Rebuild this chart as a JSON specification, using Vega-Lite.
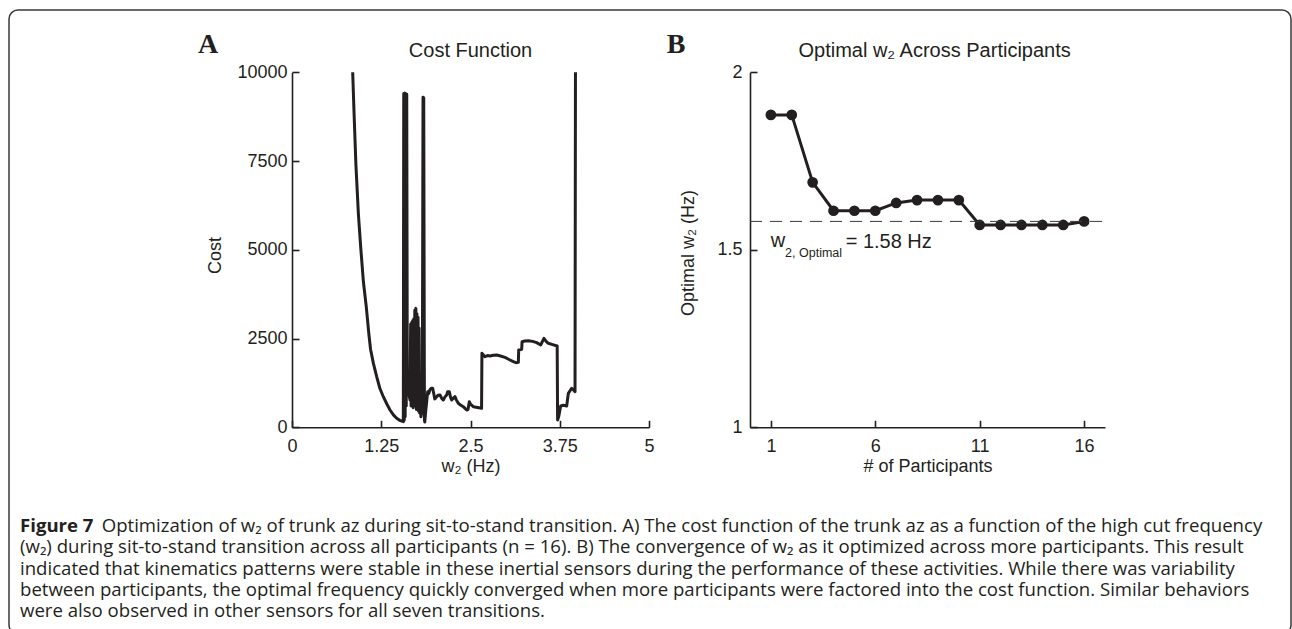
{
  "$schema": "https://vega.github.io/schema/vega-lite/v6.json",
  "width": 1282,
  "height": 624,
  "autosize": {"type": "none"},
  "padding": {"left": 9, "top": 10, "right": 1, "bottom": -5},
  "background": "white",
  "config": {
    "font": "Arial",
    "view": {"stroke": "#3a3a3a", "strokeWidth": 1.5, "cornerRadius": 9},
    "axis": {
      "grid": false,
      "domainColor": "#231f20", "domainWidth": 1.6,
      "tickColor": "#231f20", "tickWidth": 1.6, "tickSize": -7,
      "labelFont": "Arial", "labelFontSize": 18, "labelColor": "#231f20",
      "labelFlush": false, "labelOverlap": false,
      "titleFont": "Arial", "titleFontSize": 18, "titleFontWeight": "normal", "titleColor": "#231f20"
    }
  },
  "resolve": {
    "scale": {"x": "independent", "y": "independent"},
    "axis": {"x": "independent", "y": "independent"}
  },
  "layer": [
    {
      "layer": [
        {
          "data": {"values": [
            {"w2": 0.850, "cost": 10000}, {"w2": 0.870, "cost": 8800}, {"w2": 0.895, "cost": 7400},
            {"w2": 0.930, "cost": 6000}, {"w2": 0.965, "cost": 5000}, {"w2": 1.000, "cost": 4100},
            {"w2": 1.040, "cost": 3400}, {"w2": 1.078, "cost": 2600}, {"w2": 1.100, "cost": 2200},
            {"w2": 1.140, "cost": 1800}, {"w2": 1.186, "cost": 1425}, {"w2": 1.230, "cost": 1100},
            {"w2": 1.279, "cost": 862}, {"w2": 1.330, "cost": 650}, {"w2": 1.373, "cost": 487},
            {"w2": 1.420, "cost": 350}, {"w2": 1.466, "cost": 253}, {"w2": 1.510, "cost": 195},
            {"w2": 1.559, "cost": 158},
            {"w2": 1.565, "cost": 9400}, {"w2": 1.572, "cost": 200}, {"w2": 1.578, "cost": 9420},
            {"w2": 1.585, "cost": 300}, {"w2": 1.592, "cost": 9400}, {"w2": 1.600, "cost": 600},
            {"w2": 1.607, "cost": 9380}, {"w2": 1.615, "cost": 1100}, {"w2": 1.630, "cost": 1000},
            {"w2": 1.653, "cost": 770}, {"w2": 1.662, "cost": 2900}, {"w2": 1.668, "cost": 600},
            {"w2": 1.676, "cost": 2950}, {"w2": 1.683, "cost": 700}, {"w2": 1.690, "cost": 3000},
            {"w2": 1.697, "cost": 550}, {"w2": 1.705, "cost": 3050}, {"w2": 1.712, "cost": 800},
            {"w2": 1.720, "cost": 3300}, {"w2": 1.727, "cost": 600}, {"w2": 1.735, "cost": 3350},
            {"w2": 1.742, "cost": 500}, {"w2": 1.750, "cost": 3200}, {"w2": 1.757, "cost": 700},
            {"w2": 1.765, "cost": 3100}, {"w2": 1.772, "cost": 450}, {"w2": 1.780, "cost": 2800},
            {"w2": 1.787, "cost": 400}, {"w2": 1.795, "cost": 1500}, {"w2": 1.805, "cost": 300},
            {"w2": 1.825, "cost": 500}, {"w2": 1.835, "cost": 9300}, {"w2": 1.845, "cost": 9280},
            {"w2": 1.855, "cost": 200}, {"w2": 1.860, "cost": 150}, {"w2": 1.870, "cost": 400},
            {"w2": 1.885, "cost": 700}, {"w2": 1.900, "cost": 1000}, {"w2": 1.915, "cost": 950},
            {"w2": 1.930, "cost": 1050}, {"w2": 1.950, "cost": 1100}, {"w2": 1.970, "cost": 1100},
            {"w2": 1.985, "cost": 950}, {"w2": 2.000, "cost": 800}, {"w2": 2.026, "cost": 860},
            {"w2": 2.045, "cost": 900}, {"w2": 2.073, "cost": 910}, {"w2": 2.095, "cost": 820},
            {"w2": 2.119, "cost": 769}, {"w2": 2.140, "cost": 850}, {"w2": 2.166, "cost": 910},
            {"w2": 2.180, "cost": 1000}, {"w2": 2.203, "cost": 1003}, {"w2": 2.220, "cost": 850},
            {"w2": 2.236, "cost": 769}, {"w2": 2.260, "cost": 820}, {"w2": 2.283, "cost": 862},
            {"w2": 2.300, "cost": 780}, {"w2": 2.329, "cost": 676}, {"w2": 2.360, "cost": 630},
            {"w2": 2.399, "cost": 581}, {"w2": 2.420, "cost": 540}, {"w2": 2.446, "cost": 487},
            {"w2": 2.465, "cost": 500}, {"w2": 2.483, "cost": 722}, {"w2": 2.500, "cost": 650},
            {"w2": 2.539, "cost": 581}, {"w2": 2.600, "cost": 560}, {"w2": 2.655, "cost": 535},
            {"w2": 2.660, "cost": 2085}, {"w2": 2.703, "cost": 1990}, {"w2": 2.740, "cost": 2020},
            {"w2": 2.773, "cost": 2010}, {"w2": 2.820, "cost": 2030}, {"w2": 2.867, "cost": 2037},
            {"w2": 2.920, "cost": 2010}, {"w2": 2.983, "cost": 1970}, {"w2": 3.020, "cost": 1930},
            {"w2": 3.053, "cost": 1896}, {"w2": 3.100, "cost": 1850}, {"w2": 3.137, "cost": 1820},
            {"w2": 3.170, "cost": 1830}, {"w2": 3.175, "cost": 2177}, {"w2": 3.217, "cost": 2200},
            {"w2": 3.222, "cost": 2411}, {"w2": 3.260, "cost": 2430}, {"w2": 3.310, "cost": 2440},
            {"w2": 3.370, "cost": 2420}, {"w2": 3.427, "cost": 2384}, {"w2": 3.483, "cost": 2318},
            {"w2": 3.529, "cost": 2506}, {"w2": 3.560, "cost": 2420}, {"w2": 3.590, "cost": 2366},
            {"w2": 3.650, "cost": 2330}, {"w2": 3.714, "cost": 2290}, {"w2": 3.720, "cost": 206},
            {"w2": 3.735, "cost": 300}, {"w2": 3.763, "cost": 600}, {"w2": 3.800, "cost": 620},
            {"w2": 3.847, "cost": 600}, {"w2": 3.870, "cost": 957}, {"w2": 3.917, "cost": 1099},
            {"w2": 3.945, "cost": 1050}, {"w2": 3.964, "cost": 1003}, {"w2": 3.970, "cost": 10000}
          ]},
          "mark": {"type": "line", "color": "#231f20", "strokeWidth": 3, "strokeJoin": "round", "clip": false},
          "encoding": {
            "x": {"field": "w2", "type": "quantitative",
              "scale": {"domain": [0, 5], "range": [283, 640], "nice": false, "zero": false},
              "axis": {"orient": "bottom", "offset": -206.7, "values": [0, 1.25, 2.5, 3.75, 5], "format": ".3~g",
                "labelPadding": 17, "title": "w\u2082 (Hz)", "titleY": 44, "titleBaseline": "alphabetic"}},
            "y": {"field": "cost", "type": "quantitative",
              "scale": {"domain": [0, 10000], "range": [417.3, 62.3], "nice": false, "zero": false},
              "axis": {"orient": "left", "offset": -283, "values": [0, 2500, 5000, 7500, 10000], "format": "d",
                "labelPadding": 12, "title": "Cost", "titleX": -77, "titleY": 245, "titleAngle": -90,
                "titleBaseline": "middle", "titleAlign": "center"}}
          }
        },
        {
          "data": {"values": [{"label": "Cost Function"}]},
          "mark": {"type": "text", "fontSize": 20, "fontWeight": "normal", "color": "#231f20", "align": "center", "baseline": "alphabetic"},
          "encoding": {
            "x": {"datum": 2.5, "type": "quantitative"},
            "y": {"datum": 10439, "type": "quantitative"},
            "text": {"field": "label"}
          }
        },
        {
          "data": {"values": [{"label": "A"}]},
          "mark": {"type": "text", "font": "Liberation Serif", "fontWeight": "bold", "fontSize": 28, "color": "#231f20", "align": "left", "baseline": "alphabetic"},
          "encoding": {
            "x": {"datum": -1.317, "type": "quantitative"},
            "y": {"datum": 10552, "type": "quantitative"},
            "text": {"field": "label"}
          }
        }
      ]
    },
    {
      "layer": [
        {
          "data": {"values": [
            {"n": 1, "w2opt": 1.88}, {"n": 2, "w2opt": 1.88}, {"n": 3, "w2opt": 1.69}, {"n": 4, "w2opt": 1.61},
            {"n": 5, "w2opt": 1.61}, {"n": 6, "w2opt": 1.61}, {"n": 7, "w2opt": 1.632}, {"n": 8, "w2opt": 1.64},
            {"n": 9, "w2opt": 1.64}, {"n": 10, "w2opt": 1.64}, {"n": 11, "w2opt": 1.57}, {"n": 12, "w2opt": 1.57},
            {"n": 13, "w2opt": 1.57}, {"n": 14, "w2opt": 1.57}, {"n": 15, "w2opt": 1.57}, {"n": 16, "w2opt": 1.58}
          ]},
          "mark": {"type": "line", "color": "#231f20", "strokeWidth": 3, "point": {"filled": true, "size": 115, "color": "#231f20", "opacity": 1}},
          "encoding": {
            "x": {"field": "n", "type": "quantitative",
              "scale": {"domain": [0, 17], "range": [741, 1096], "nice": false, "zero": false},
              "axis": {"orient": "bottom", "offset": -206.7, "values": [1, 6, 11, 16], "format": "d",
                "labelPadding": 17, "title": "# of Participants", "titleY": 44, "titleBaseline": "alphabetic"}},
            "y": {"field": "w2opt", "type": "quantitative",
              "scale": {"domain": [1, 2], "range": [417.3, 62.3], "nice": false, "zero": false},
              "axis": {"orient": "left", "offset": -741, "values": [1, 1.5, 2], "format": ".2~g",
                "labelPadding": 15, "title": "Optimal w\u2082 (Hz)", "titleX": -62, "titleY": 242.5, "titleAngle": -90,
                "titleBaseline": "middle", "titleAlign": "center"}}
          }
        },
        {
          "data": {"values": [{"optimal": 1.58}]},
          "mark": {"type": "rule", "color": "#3a3a3a", "strokeWidth": 1, "strokeDash": [12, 8]},
          "encoding": {
            "x": {"datum": 0, "type": "quantitative"},
            "x2": {"datum": 17},
            "y": {"field": "optimal", "type": "quantitative"}
          }
        },
        {
          "data": {"values": [{"label": "Optimal w\u2082 Across Participants"}]},
          "mark": {"type": "text", "fontSize": 20, "fontWeight": "normal", "color": "#231f20", "align": "center", "baseline": "alphabetic"},
          "encoding": {
            "x": {"datum": 8.84, "type": "quantitative"},
            "y": {"datum": 2.044, "type": "quantitative"},
            "text": {"field": "label"}
          }
        },
        {
          "data": {"values": [{"label": "B"}]},
          "mark": {"type": "text", "font": "Liberation Serif", "fontWeight": "bold", "fontSize": 28, "color": "#231f20", "align": "left", "baseline": "alphabetic"},
          "encoding": {
            "x": {"datum": -3.99, "type": "quantitative"},
            "y": {"datum": 2.0535, "type": "quantitative"},
            "text": {"field": "label"}
          }
        },
        {
          "data": {"values": [{"label": "w"}]},
          "mark": {"type": "text", "fontSize": 20, "fontWeight": "normal", "color": "#231f20", "align": "left", "baseline": "alphabetic"},
          "encoding": {
            "x": {"datum": 0.99, "type": "quantitative"},
            "y": {"datum": 1.507, "type": "quantitative"},
            "text": {"field": "label"}
          }
        },
        {
          "data": {"values": [{"label": "2, Optimal"}]},
          "mark": {"type": "text", "fontSize": 12.5, "fontWeight": "normal", "color": "#231f20", "align": "left", "baseline": "alphabetic"},
          "encoding": {
            "x": {"datum": 1.68, "type": "quantitative"},
            "y": {"datum": 1.481, "type": "quantitative"},
            "text": {"field": "label"}
          }
        },
        {
          "data": {"values": [{"label": "= 1.58 Hz"}]},
          "mark": {"type": "text", "fontSize": 20, "fontWeight": "normal", "color": "#231f20", "align": "left", "baseline": "alphabetic"},
          "encoding": {
            "x": {"datum": 4.58, "type": "quantitative"},
            "y": {"datum": 1.506, "type": "quantitative"},
            "text": {"field": "label"}
          }
        }
      ]
    },
    {
      "data": {"values": [
        {"line": 1, "part": "label", "text": "Figure 7"},
        {"line": 1, "part": "lead", "text": "Optimization of w\u2082 of trunk az during sit-to-stand transition. A) The cost function of the trunk az as a function of the high cut frequency"},
        {"line": 2, "part": "body", "text": [
          "(w\u2082) during sit-to-stand transition across all participants (n = 16). B) The convergence of w\u2082 as it optimized across more participants. This result",
          "indicated that kinematics patterns were stable in these inertial sensors during the performance of these activities. While there was variability",
          "between participants, the optimal frequency quickly converged when more participants were factored into the cost function. Similar behaviors",
          "were also observed in other sensors for all seven transitions."
        ]}
      ]},
      "encoding": {
        "y": {"field": "line", "type": "quantitative", "scale": {"domain": [1, 5], "range": [522, 607.3], "nice": false, "zero": false}, "axis": null},
        "text": {"field": "text"}
      },
      "layer": [
        {
          "transform": [{"filter": "datum.part === 'label'"}],
          "mark": {"type": "text", "font": "Open Sans", "fontSize": 18.6, "fontWeight": "bold", "color": "#231f20", "align": "left", "baseline": "alphabetic", "x": 11}
        },
        {
          "transform": [{"filter": "datum.part === 'lead'"}],
          "mark": {"type": "text", "font": "Open Sans", "fontSize": 18.6, "color": "#231f20", "align": "left", "baseline": "alphabetic", "x": 92.7}
        },
        {
          "transform": [{"filter": "datum.part === 'body'"}],
          "mark": {"type": "text", "font": "Open Sans", "fontSize": 18.6, "lineHeight": 21.33, "color": "#231f20", "align": "left", "baseline": "alphabetic", "x": 11}
        }
      ]
    }
  ]
}
